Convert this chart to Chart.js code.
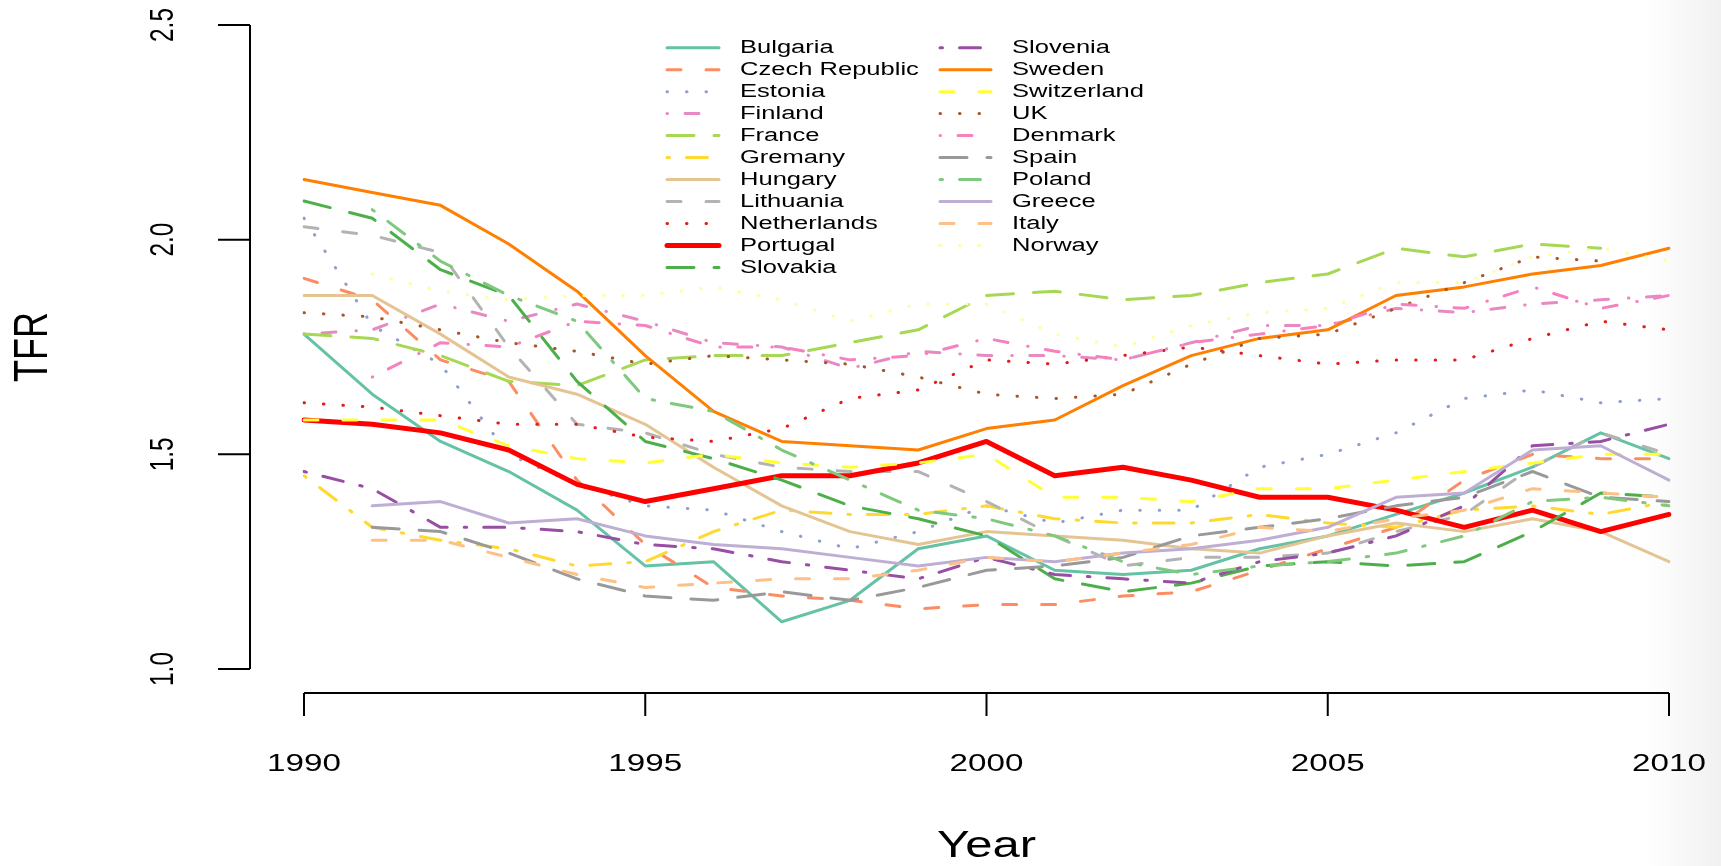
<!DOCTYPE html>
<html>
<head>
<meta charset="utf-8">
<script src="https://cdn.jsdelivr.net/npm/chart.js@4.4.1/dist/chart.umd.min.js"></script>
<style>
    html, body { margin: 0; padding: 0; }
    body { background: linear-gradient(to right, #fff 0%, #fff 95.5%, #f1f1f1 100%); }
    #wrap { width: 1721px; height: 866px; }
</style>
</head>
<body>
<div id="wrap"><canvas id="tfrChart" width="1721" height="866"></canvas></div>
<script>
// Data (TFR by year)
const years = [1990, 1991, 1992, 1993, 1994, 1995, 1996, 1997, 1998, 1999, 2000,
               2001, 2002, 2003, 2004, 2005, 2006, 2007, 2008, 2009, 2010];
const xTickYears = [1990, 1995, 2000, 2005, 2010];
const yTickValues = [1.0, 1.5, 2.0, 2.5];

const bulgaria    = [1.78, 1.64, 1.53, 1.46, 1.37, 1.24, 1.25, 1.11, 1.16, 1.28, 1.31, 1.23, 1.22, 1.23, 1.28, 1.31, 1.36, 1.41, 1.47, 1.55, 1.49];
const czech       = [1.91, 1.86, 1.72, 1.67, 1.44, 1.29, 1.19, 1.17, 1.16, 1.14, 1.15, 1.15, 1.17, 1.18, 1.23, 1.28, 1.33, 1.44, 1.50, 1.49, 1.49];
const estonia     = [2.05, 1.80, 1.71, 1.50, 1.43, 1.38, 1.37, 1.32, 1.28, 1.32, 1.38, 1.34, 1.37, 1.37, 1.47, 1.50, 1.55, 1.63, 1.65, 1.62, 1.63];
const finland     = [1.78, 1.79, 1.85, 1.81, 1.85, 1.81, 1.76, 1.75, 1.70, 1.74, 1.73, 1.73, 1.72, 1.76, 1.80, 1.80, 1.84, 1.83, 1.85, 1.86, 1.87];
const france      = [1.78, 1.77, 1.73, 1.67, 1.66, 1.72, 1.73, 1.73, 1.76, 1.79, 1.87, 1.88, 1.86, 1.87, 1.90, 1.92, 1.98, 1.96, 1.99, 1.98, null];
const germany     = [1.45, 1.33, 1.30, 1.28, 1.24, 1.25, 1.32, 1.37, 1.36, 1.36, 1.38, 1.35, 1.34, 1.34, 1.36, 1.34, 1.33, 1.37, 1.38, 1.36, 1.39];
const hungary     = [1.87, 1.87, 1.78, 1.68, 1.64, 1.57, 1.47, 1.38, 1.32, 1.29, 1.32, 1.31, 1.30, 1.28, 1.27, 1.31, 1.34, 1.32, 1.35, 1.32, 1.25];
const lithuania   = [2.03, 2.01, 1.97, 1.75, 1.57, 1.55, 1.50, 1.47, 1.46, 1.46, 1.39, 1.31, 1.24, 1.26, 1.26, 1.27, 1.32, 1.36, 1.47, 1.55, 1.50];
const netherlands = [1.62, 1.61, 1.59, 1.57, 1.57, 1.54, 1.53, 1.56, 1.63, 1.65, 1.72, 1.71, 1.73, 1.75, 1.73, 1.71, 1.72, 1.72, 1.77, 1.81, 1.79];
const portugal    = [1.58, 1.57, 1.55, 1.51, 1.43, 1.39, 1.42, 1.45, 1.45, 1.48, 1.53, 1.45, 1.47, 1.44, 1.40, 1.40, 1.37, 1.33, 1.37, 1.32, 1.36];
const slovakia    = [2.09, 2.05, 1.93, 1.87, 1.67, 1.53, 1.49, 1.44, 1.38, 1.35, 1.31, 1.21, 1.18, 1.20, 1.24, 1.25, 1.24, 1.25, 1.32, 1.41, 1.40];
const slovenia    = [1.46, 1.42, 1.33, 1.33, 1.32, 1.29, 1.28, 1.25, 1.23, 1.21, 1.26, 1.22, 1.21, 1.20, 1.25, 1.27, 1.31, 1.38, 1.52, 1.53, 1.57];
const sweden      = [2.14, 2.11, 2.08, 1.99, 1.88, 1.73, 1.60, 1.53, 1.52, 1.51, 1.56, 1.58, 1.66, 1.73, 1.77, 1.79, 1.87, 1.89, 1.92, 1.94, 1.98];
const switzerland = [1.58, 1.58, 1.58, 1.52, 1.49, 1.48, 1.50, 1.48, 1.47, 1.48, 1.50, 1.40, 1.40, 1.39, 1.42, 1.42, 1.44, 1.46, 1.48, 1.50, 1.50];
const uk          = [1.83, 1.82, 1.79, 1.76, 1.74, 1.71, 1.73, 1.72, 1.71, 1.68, 1.64, 1.63, 1.64, 1.71, 1.77, 1.78, 1.84, 1.90, 1.96, 1.95, null];
const denmark     = [null, 1.68, 1.76, 1.75, 1.81, 1.80, 1.75, 1.75, 1.72, 1.73, 1.77, 1.74, 1.72, 1.76, 1.78, 1.80, 1.85, 1.84, 1.89, 1.84, 1.87];
const spain       = [null, 1.33, 1.32, 1.27, 1.21, 1.17, 1.16, 1.18, 1.16, 1.19, 1.23, 1.24, 1.26, 1.31, 1.33, 1.35, 1.38, 1.40, 1.46, 1.40, 1.39];
const poland      = [null, 2.07, 1.95, 1.87, 1.81, 1.63, 1.60, 1.51, 1.44, 1.37, 1.35, 1.31, 1.25, 1.22, 1.24, 1.25, 1.27, 1.31, 1.39, 1.40, 1.38];
const greece      = [null, 1.38, 1.39, 1.34, 1.35, 1.31, 1.29, 1.28, 1.26, 1.24, 1.26, 1.25, 1.27, 1.28, 1.30, 1.33, 1.40, 1.41, 1.51, 1.52, 1.44];
const italy       = [null, 1.30, 1.30, 1.26, 1.22, 1.19, 1.20, 1.21, 1.21, 1.23, 1.26, 1.25, 1.27, 1.29, 1.33, 1.32, 1.35, 1.37, 1.42, 1.41, 1.40];
const norway      = [null, 1.92, 1.88, 1.86, 1.87, 1.87, 1.89, 1.86, 1.81, 1.85, 1.85, 1.78, 1.75, 1.80, 1.83, 1.84, 1.90, 1.90, 1.96, 1.98, 1.95];

const countries = ['Bulgaria', 'Czech Republic', 'Estonia', 'Finland', 'France', 'Gremany', 'Hungary',
                   'Lithuania', 'Netherlands', 'Portugal', 'Slovakia', 'Slovenia', 'Sweden', 'Switzerland',
                   'UK', 'Denmark', 'Spain', 'Poland', 'Greece', 'Italy', 'Norway'];
const series = [bulgaria, czech, estonia, finland, france, germany, hungary,
                lithuania, netherlands, portugal, slovakia, slovenia, sweden, switzerland,
                uk, denmark, spain, poland, greece, italy, norway];

// Styles (R-like palettes and line types)
const colors = ['#66C2A5', '#FC8D62', '#8DA0CB', '#E78AC3', '#A6D854', '#FFD92F', '#E5C494',
                '#B3B3B3', '#E41A1C', '#FF0000', '#4DAF4A', '#984EA3', '#FF7F00', '#FFFF33',
                '#A65628', '#F781BF', '#999999', '#7FC97F', '#BEAED4', '#FDC086', '#FFFF99'];
const ltyCycle = ['solid', 'dashed', 'dotted', 'dotdash', 'longdash', 'twodash'];
const dashes = {
    solid: [],
    dashed: [14, 25],
    dotted: [0.5, 19],
    dotdash: [0.5, 17.5, 14, 20],
    longdash: [27, 20],
    twodash: [2.5, 17, 21, 17]
};
const LINE_W = 3;
const THICK_W = 5;
const SX = 1.36; // horizontal stretch of the text in the original picture
const FONT = '"Liberation Sans", Arial, Helvetica, sans-serif';

function ltyOf(i) {
    return countries[i] === 'Portugal' ? 'solid' : ltyCycle[i % 6];
}

const datasets = series.map((values, i) => ({
    label: countries[i],
    data: values,
    borderColor: colors[i],
    backgroundColor: colors[i],
    borderWidth: countries[i] === 'Portugal' ? THICK_W : LINE_W,
    borderDash: dashes[ltyOf(i)],
    borderCapStyle: 'round',
    borderJoinStyle: 'round',
    pointRadius: 0,
    tension: 0,
    fill: false,
    order: -i // later series drawn on top, like R
}));

function stretchedText(ctx, text, x, y, align, rotate) {
    ctx.save();
    ctx.translate(x, y);
    ctx.scale(SX, 1);
    if (rotate) ctx.rotate(-Math.PI / 2);
    ctx.textAlign = align;
    ctx.textBaseline = 'middle';
    ctx.fillText(text, 0, 0);
    ctx.restore();
}

// R style detached axes, axis titles and the legend
const rDecor = {
    id: 'rDecor',
    afterDraw(chart) {
        const ctx = chart.ctx;
        const xs = chart.scales.x;
        const ys = chart.scales.y;
        const area = chart.chartArea;

        ctx.save();
        ctx.strokeStyle = '#000';
        ctx.fillStyle = '#000';
        ctx.lineWidth = 2;
        ctx.lineCap = 'butt';
        ctx.setLineDash([]);

        // y axis
        const yAxisX = 250;
        const yTop = ys.getPixelForValue(yTickValues[yTickValues.length - 1]);
        const yBot = ys.getPixelForValue(yTickValues[0]);
        ctx.beginPath();
        ctx.moveTo(yAxisX, yTop);
        ctx.lineTo(yAxisX, yBot);
        yTickValues.forEach(v => {
            const p = ys.getPixelForValue(v);
            ctx.moveTo(yAxisX, p);
            ctx.lineTo(yAxisX - 32, p);
        });
        ctx.stroke();
        ctx.font = '24.4px ' + FONT;
        yTickValues.forEach(v => {
            stretchedText(ctx, v.toFixed(1), 164, ys.getPixelForValue(v), 'center', true);
        });

        // x axis
        const xAxisY = 693;
        const xL = xs.getPixelForValue(years.indexOf(xTickYears[0]));
        const xR = xs.getPixelForValue(years.indexOf(xTickYears[xTickYears.length - 1]));
        ctx.beginPath();
        ctx.moveTo(xL, xAxisY);
        ctx.lineTo(xR, xAxisY);
        xTickYears.forEach(yr => {
            const p = xs.getPixelForValue(years.indexOf(yr));
            ctx.moveTo(p, xAxisY);
            ctx.lineTo(p, xAxisY + 23);
        });
        ctx.stroke();
        xTickYears.forEach(yr => {
            stretchedText(ctx, String(yr), xs.getPixelForValue(years.indexOf(yr)), 764, 'center', false);
        });

        // axis titles
        ctx.font = '36px ' + FONT;
        stretchedText(ctx, 'Year', (area.left + area.right) / 2, 847, 'center', false);
        stretchedText(ctx, 'TFR', 34, (area.top + area.bottom) / 2, 'center', true);

        // legend, two columns, no box
        ctx.font = '18.8px ' + FONT;
        const rowH = 21.97;
        const cols = [{ x0: 667, x1: 719, tx: 740 }, { x0: 940, x1: 991, tx: 1012 }];
        countries.forEach((name, i) => {
            const col = cols[i < 11 ? 0 : 1];
            const row = i < 11 ? i : i - 11;
            const y = 47.7 + row * rowH;
            ctx.save();
            ctx.strokeStyle = colors[i];
            ctx.lineWidth = name === 'Portugal' ? THICK_W : LINE_W;
            ctx.lineCap = 'round';
            ctx.setLineDash(dashes[ltyOf(i)]);
            ctx.beginPath();
            ctx.moveTo(col.x0, y);
            ctx.lineTo(col.x1, y);
            ctx.stroke();
            ctx.restore();
            ctx.fillStyle = '#000';
            stretchedText(ctx, name, col.tx, y + 0.5, 'left', false);
        });
        ctx.restore();
    }
};

new Chart(document.getElementById('tfrChart'), {
    type: 'line',
    data: { labels: years, datasets: datasets },
    options: {
        responsive: false,
        animation: false,
        spanGaps: false,
        layout: { padding: { left: 304, right: 52, top: 25, bottom: 197 } },
        plugins: {
            legend: { display: false },
            title: { display: false },
            tooltip: { enabled: false }
        },
        scales: {
            x: { type: 'category', display: false, offset: false },
            y: { type: 'linear', display: false, min: 1.0, max: 2.5 }
        }
    },
    plugins: [rDecor]
});
</script>
</body>
</html>
